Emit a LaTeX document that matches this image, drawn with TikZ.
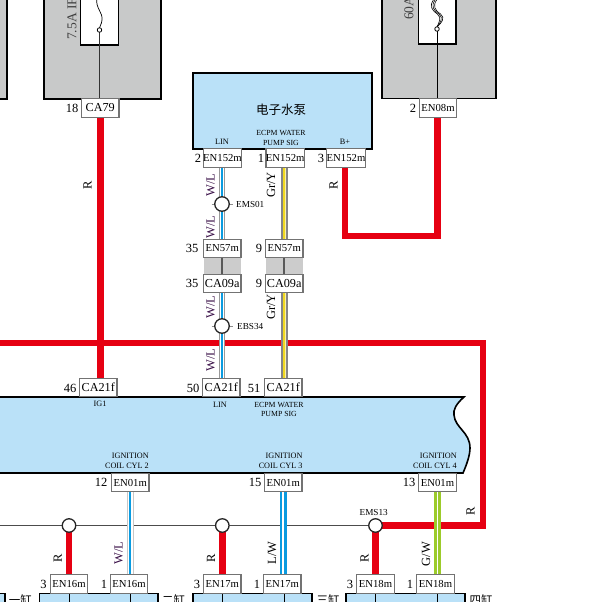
\documentclass[tikz,border=0pt]{standalone}
\usepackage{fontspec}
\setmainfont{Liberation Serif}
\newfontfamily\cjkfont{Noto Sans CJK SC}
\usetikzlibrary{calc}
\definecolor{bodyblue}{HTML}{BAE1F8}
\definecolor{boxgrey}{HTML}{C8C9C9}
\definecolor{stripgrey}{HTML}{CCCCCC}
\definecolor{wirered}{HTML}{E60012}
\definecolor{wireblue}{HTML}{0A9BE0}
\definecolor{wiregreen}{HTML}{9CCB2A}
\definecolor{wireyellow}{HTML}{F0D820}
\definecolor{labelpurple}{HTML}{3A1048}
\pgfdeclarelayer{back}
\pgfdeclarelayer{wires}
\pgfsetlayers{back,wires,main}
\newcommand{\fpx}[1]{\fontsize{#1}{#1}\selectfont}
\tikzset{
  x=1pt,y=-1pt,
  conn/.style={draw=black!55,fill=white,line width=1.3pt,minimum width=37.5pt,minimum height=18.5pt,inner sep=0pt,outer sep=0pt},
  cen/.style={conn,font=\fpx{10.7}},
  cca/.style={conn,font=\fpx{12.2}},
  pinno/.style={inner sep=0pt,font=\fpx{12.5}},
  small/.style={inner sep=0pt,font=\fpx{8.2},align=center},
  splicetag/.style={inner sep=0pt,font=\fpx{9.2},anchor=west},
  wiretag/.style={inner sep=0pt,rotate=90,font=\fpx{12.5}},
  wltag/.style={wiretag,text=labelpurple},
  splice/.style={circle,draw=black!85,fill=white,line width=1.3pt,minimum size=13.5pt,inner sep=0pt,outer sep=0pt},
  module/.style={draw=black,fill=boxgrey,line width=1.5pt},
  fusebox/.style={draw=black,fill=white,line width=1.5pt},
  body/.style={draw=black,fill=bodyblue,line width=1.6pt},
  redwire/.style={draw=wirered,line width=6.8pt,line join=miter},
  thinwire/.style={draw=black!70,line width=1pt},
  wlwire/.style={draw=black!40,line width=5.8pt,postaction={draw=white,line width=3.8pt},postaction={draw=wireblue,line width=2pt}},
  wlwirelight/.style={draw=black!22,line width=6.6pt,postaction={draw=white,line width=5pt},postaction={draw=wireblue,line width=1.6pt}},
  lwwire/.style={draw=wireblue,line width=7pt,postaction={draw=white,line width=1.8pt}},
  gwwire/.style={draw=wiregreen,line width=7pt,postaction={draw=white,line width=1.8pt}},
  gywire/.style={draw=black!48,line width=6.6pt,postaction={draw=white!60!wireyellow,line width=2.6pt},postaction={draw=wireyellow,line width=2pt}},
  stub/.style={draw=black!65,line width=2pt},
  fuseline/.style={draw=black,line width=1pt},
}
\begin{document}
\begin{tikzpicture}
\useasboundingbox (0,0) rectangle (601,602);
\clip (0,0) rectangle (601,602);
\begin{pgfonlayer}{back}
  \fill[white] (0,0) rectangle (601,602);
  \fill[stripgrey] (203.5,258) rectangle (241,274);
  \fill[stripgrey] (265.5,258) rectangle (303,274);
\end{pgfonlayer}

% modules at the top
\draw[module] (-5,-5) rectangle (7,99);
\draw[module] (44,-5) rectangle (161,99);
\draw[fusebox] (80.5,-5) rectangle (118.5,45);
\draw[module] (382,-5) rectangle (496,98.5);
\draw[fusebox] (418.5,-5) rectangle (456,44);
\draw[fuseline,black!80] (99.7,32) -- (99.7,99);
\draw[fuseline] (437,31) -- (437,99);
\draw[black,line width=.7pt] (97,-2) .. controls (95,8) and (103,12) .. (102,20) .. controls (101.5,25) and (99.5,26) .. (99.5,28);
\foreach \d in {-1.6,0,1.6}
  \draw[black,line width=.6pt] (435+\d,0) .. controls (431+\d,6) and (433+\d,10) .. (439+\d,14) .. controls (444+\d,18) and (440+\d,23) .. (437,27);
\node[circle,draw=black,fill=white,line width=.8pt,minimum size=4.5pt,inner sep=0pt] (fuseA) at (99.5,30) {};
\node[circle,draw=black,fill=white,line width=.8pt,minimum size=4.5pt,inner sep=0pt] (fuseB) at (437,29) {};
\node[inner sep=0pt,rotate=90,anchor=west,text=black!75,font=\fpx{13.5}] (fuseAt) at (72,40) {7.5A IF};
\node[inner sep=0pt,rotate=90,anchor=west,text=black!75,font=\fpx{13.5}] (fuseBt) at (409,20) {60A};

% pump
\node[body,minimum width=179pt,minimum height=76pt,inner sep=0pt,outer sep=0pt] (pump) at (282.5,111) {};
\node[inner sep=0pt,font=\cjkfont\fpx{12.5}] (pumpname) at (281,110) {电子水泵};
\node[small] (pumplin) at (222,142) {LIN};
\node[small,font=\fpx{7.8},align=center] (pumpsig) at (281,138) {ECPM WATER\\[1.5pt]PUMP SIG};
\node[small] (pumpb) at (345,142) {B+};

% main body
\draw[body] (-3,397) -- (464,397) .. controls (456,404) and (453,410) .. (454,415) .. controls (455,428) and (470,432) .. (470,448) .. controls (470,456) and (466,466) .. (463,473) -- (-3,473);
\node[small] (ig1) at (100,404) {IG1};
\node[small] (blin) at (220,405) {LIN};
\node[small,font=\fpx{7.8}] (bsig) at (279,409.5) {ECPM WATER\\[1.5pt]PUMP SIG};
\node[small,align=right,anchor=east] (ign2) at (149,461) {IGNITION\\[1.5pt]COIL CYL 2};
\node[small,align=right,anchor=east] (ign3) at (302.7,461) {IGNITION\\[1.5pt]COIL CYL 3};
\node[small,align=right,anchor=east] (ign4) at (457,461) {IGNITION\\[1.5pt]COIL CYL 4};

% bottom bodies
\draw[body] (-5,593.5) rectangle (5,612);
\draw[body] (39.5,593.5) rectangle (158,612);
\draw[body] (192.7,593.5) rectangle (311.7,612);
\draw[body] (346,593.5) rectangle (465,612);
\foreach \x in {69,130,222,284,375,437}
  \draw[black,line width=1pt] (\x,593.5) -- (\x,612);
\node[inner sep=0pt,font=\cjkfont\fpx{11.5}] (cyl1) at (20.5,600) {一缸};
\node[inner sep=0pt,font=\cjkfont\fpx{11.5}] (cyl2) at (173.5,600) {二缸};
\node[inner sep=0pt,font=\cjkfont\fpx{11.5}] (cyl3) at (328,600) {三缸};
\node[inner sep=0pt,font=\cjkfont\fpx{11.5}] (cyl4) at (481,600) {四缸};

% connectors
\node[cca] (ca79) at (100.2,108) {CA79};
\node[pinno] (n18) at (72,108) {18};
\node[cen] (en08) at (438,108) {EN08m};
\node[pinno] (n2a) at (413,108) {2};
\node[cen] (en152a) at (222.5,158) {EN152m};
\node[pinno] (n2b) at (198,158) {2};
\node[cen] (en152b) at (285.2,158) {EN152m};
\node[pinno] (n1b) at (261,158) {1};
\node[cen] (en152c) at (346,158) {EN152m};
\node[pinno] (n3c) at (321,158) {3};
\node[cen] (en57a) at (222.2,248.5) {EN57m};
\node[pinno] (n35a) at (192,248.5) {35};
\node[cen] (en57b) at (284.2,248.5) {EN57m};
\node[pinno] (n9a) at (259,248.5) {9};
\node[cca] (ca09a) at (222.2,283.5) {CA09a};
\node[pinno] (n35b) at (192,283.5) {35};
\node[cca] (ca09b) at (284.2,283.5) {CA09a};
\node[pinno] (n9b) at (259,283.5) {9};
\node[cca] (ca21a) at (98.3,387.5) {CA21f};
\node[pinno] (n46) at (70,388) {46};
\node[cca] (ca21b) at (221.3,387.5) {CA21f};
\node[pinno] (n50) at (193,388) {50};
\node[cca] (ca21c) at (283.3,387.5) {CA21f};
\node[pinno] (n51) at (254,388) {51};
\node[cen] (en01a) at (130.2,482.5) {EN01m};
\node[pinno] (n12) at (101,482.5) {12};
\node[cen] (en01b) at (283.2,482.5) {EN01m};
\node[pinno] (n15) at (255,482.5) {15};
\node[cen] (en01c) at (437.5,482.5) {EN01m};
\node[pinno] (n13) at (409,482.5) {13};
\node[cen] (en16a) at (69,584) {EN16m};
\node[pinno] (n3d) at (43.5,584) {3};
\node[cen] (en16b) at (129,584) {EN16m};
\node[pinno] (n1d) at (104,584) {1};
\node[cen] (en17a) at (222.3,584) {EN17m};
\node[pinno] (n3e) at (197,584) {3};
\node[cen] (en17b) at (282.3,584) {EN17m};
\node[pinno] (n1e) at (257,584) {1};
\node[cen] (en18a) at (375.5,584) {EN18m};
\node[pinno] (n3f) at (350,584) {3};
\node[cen] (en18b) at (435.5,584) {EN18m};
\node[pinno] (n1f) at (410,584) {1};

% splices
\node[splice,minimum size=14.5pt] (ems01) at (222,204) {};
\node[splice,minimum size=14.5pt] (ebs34) at (222,326) {};
\node[splice] (sp1) at (69,525.5) {};
\node[splice] (sp2) at (222.3,525.5) {};
\node[splice] (sp3) at (375.5,525.5) {};
\node[splicetag] (ems01t) at (236,204) {EMS01};
\node[splicetag] (ebs34t) at (237,326) {EBS34};
\node[splicetag,anchor=center] (ems13t) at (373.7,512.5) {EMS13};

% free ends and corners
\coordinate (redL) at (-3,343);
\coordinate (redA) at (483,343);
\coordinate (redB) at (483,525.5);
\coordinate (redC) at (437.5,236);
\coordinate (redD) at (345,236);
\coordinate (thinL) at (-3,525.5);

% wire labels
\node[wiretag] (r1) at (87.5,185) {R};
\node[wiretag] (r2) at (333.5,185) {R};
\node[wltag] (wl1) at (210.7,185) {W/L};
\node[wltag] (wl2) at (210.7,227) {W/L};
\node[wltag] (wl3) at (210.7,307) {W/L};
\node[wltag] (wl4) at (210.7,360) {W/L};
\node[wiretag] (gy1) at (271,185) {Gr/Y};
\node[wiretag] (gy2) at (271,307) {Gr/Y};
\node[wiretag] (r3) at (470.5,511) {R};
\node[wiretag] (r4) at (57.7,558.5) {R};
\node[wiretag] (r5) at (211,558.5) {R};
\node[wiretag] (r6) at (364.5,558.5) {R};
\node[wltag] (wl5) at (118.7,553) {W/L};
\node[wiretag] (lw) at (272,553) {L/W};
\node[wiretag] (gw) at (426,554) {G/W};

\begin{pgfonlayer}{wires}
  \draw[thinwire] (thinL) -- (sp1) -- (sp2) -- (sp3);
  \draw[redwire] (ca79.south) -- (ca79.south |- ca21a.north);
  \draw[redwire] (redL) -- (redA) -- (redB) -- (sp3.center);
  \draw[redwire] (en08.south -| redC) -- (redC) -- (redD) -- (en152c.south -| redD);
  \draw[redwire] (sp1.center) -- (sp1 |- en16a.north);
  \draw[redwire] (sp2.center) -- (sp2 |- en17a.north);
  \draw[redwire] (sp3.center) -- (sp3 |- en18a.north);
  \draw[thinwire,black!45] ($(ems01.center)+(-10.5,0)$) -- ($(ems01.center)+(11,0)$);
  \draw[thinwire,black!45] ($(ebs34.center)+(-10.5,0)$) -- ($(ebs34.center)+(11,0)$);
  \draw[wlwire] (en152a.south -| ems01) -- (en57a.north -| ems01);
  \draw[wlwire] (ca09a.south -| ebs34) -- (ca21b.north -| ebs34);
  \draw[gywire] (en152b.south -| en57b) -- (en57b.north);
  \draw[gywire] (ca09b.south) -- (ca09b.south |- ca21c.north);
  \draw[stub] (en57a.south) -- (ca09a.north);
  \draw[stub] (en57b.south) -- (ca09b.north);
  \draw[wlwirelight] (en01a.south) -- (en01a.south |- en16b.north);
  \draw[lwwire] (en01b.south) -- (en01b.south |- en17b.north);
  \draw[gwwire] (en01c.south) -- (en01c.south |- en18b.north);
\end{pgfonlayer}
\end{tikzpicture}
\end{document}
